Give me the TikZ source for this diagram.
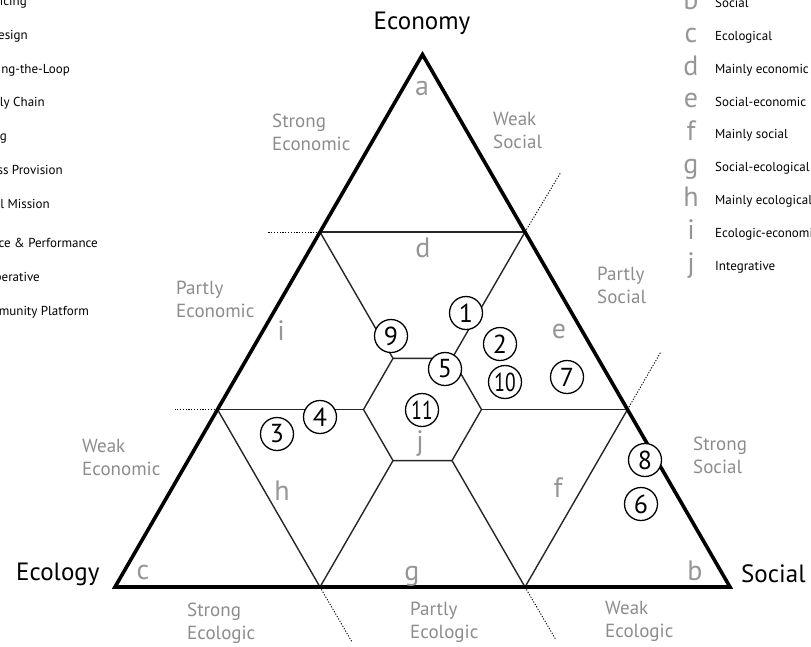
\documentclass[tikz,border=0pt]{standalone}
\usepackage{fontspec}
\setmainfont{PT Sans}
\usetikzlibrary{calc}
\definecolor{labgray}{HTML}{8C8C8C}
\definecolor{letgray}{HTML}{969696}
\begin{document}
\begin{tikzpicture}[x=1pt,y=-1pt,
  tri/.style={line width=3.6pt, line join=miter},
  gridline/.style={line width=1.4pt, black!85},
  extline/.style={line width=0.9pt, dash pattern=on 1.2pt off 1.6pt},
  zone/.style={text=labgray, font=\fontsize{19}{23}\selectfont, align=left, anchor=base west, inner sep=0pt},
  region/.style={text=letgray, font=\fontsize{28}{28}\selectfont, anchor=base, inner sep=0pt},
  corner/.style={font=\fontsize{25}{25}\selectfont, inner sep=0pt},
  num/.style={circle, draw, line width=1.3pt, fill=white, minimum size=33pt, inner sep=0pt, font=\fontsize{26}{26}\selectfont},
  legl/.style={font=\fontsize{13}{13}\selectfont, anchor=base east, inner sep=0pt},
  legr/.style={font=\fontsize{13}{13}\selectfont, anchor=base west, inner sep=0pt},
]
\useasboundingbox (0,0) rectangle (811,646);
\clip (0,0) rectangle (811,646);

% main points
\coordinate (A) at (422.5,54.5);
\coordinate (BL) at (115,587);
\coordinate (BR) at (730,587);
\coordinate (L1) at (320,232);
\coordinate (L2) at (217.5,409.5);
\coordinate (R1) at (525,232);
\coordinate (R2) at (627.5,409.5);
\coordinate (B1) at (320,587);
\coordinate (B2) at (525,587);
% hexagon
\coordinate (H1) at (393,358.4);
\coordinate (H2) at (452,358.4);
\coordinate (H3) at (481.5,409.5);
\coordinate (H4) at (452,460.6);
\coordinate (H5) at (393,460.6);
\coordinate (H6) at (363.5,409.5);
% dotted extension ends
\coordinate (eL1) at (267,232);
\coordinate (eL2) at (175,409.5);
\coordinate (eR1) at (561,172);
\coordinate (eR2) at (660.5,352.5);
\coordinate (eB1) at (352,642);
\coordinate (eB2) at (556,640);

% inner lines
\draw[gridline] (L1) -- (R1);
\draw[gridline] (L1) -- (H1);
\draw[gridline] (R1) -- (H2);
\draw[gridline] (L2) -- (H6);
\draw[gridline] (R2) -- (H3);
\draw[gridline] (B1) -- (H5);
\draw[gridline] (B2) -- (H4);
\draw[gridline] (L2) -- (B1);
\draw[gridline] (R2) -- (B2);
\draw[gridline] (H1) -- (H2) -- (H3) -- (H4) -- (H5) -- (H6) -- cycle;

% dotted extensions
\draw[extline] (L1) -- (eL1);
\draw[extline] (L2) -- (eL2);
\draw[extline] (R1) -- (eR1);
\draw[extline] (R2) -- (eR2);
\draw[extline] (B1) -- (eB1);
\draw[extline] (B2) -- (eB2);

% outer triangle
\draw[tri] (A) -- (BR) -- (BL) -- cycle;

% corner labels
\node[corner, anchor=base] (economy) at (422,29) {Economy};
\node[corner, anchor=base west] (ecology) at (16,580) {Ecology};
\node[corner, anchor=base west] (social) at (741,582) {Social};

% region letters
\node[region] (ra) at (422,95) {a};
\node[region] (rb) at (695,580) {b};
\node[region] (rc) at (143,579) {c};
\node[region] (rd) at (423,257) {d};
\node[region] (re) at (559,338) {e};
\node[region] (rf) at (558,497) {f};
\node[region] (rg) at (412,580) {g};
\node[region] (rh) at (282,500) {h};
\node[region] (ri) at (281,340) {i};
\node[region] (rj) at (420,450) {j};

% zone labels (anchor = baseline of the last line)
\node[zone] (z1) at (272,150) {Strong\\Economic};
\node[zone] (z2) at (493,148) {Weak\\Social};
\node[zone] (z3) at (176,317) {Partly\\Economic};
\node[zone] (z4) at (597,303) {Partly\\Social};
\node[zone] (z5) at (82,475) {Weak\\Economic};
\node[zone] (z6) at (693,473) {Strong\\Social};
\node[zone] (z7) at (187,639) {Strong\\Ecologic};
\node[zone] (z8) at (410,638) {Partly\\Ecologic};
\node[zone] (z9) at (605,637) {Weak\\Ecologic};

% numbered cases
\node[num] (n1) at (466,313) {1};
\node[num] (n2) at (500,344) {2};
\node[num] (n3) at (277,434) {3};
\node[num] (n4) at (320,417) {4};
\node[num] (n5) at (445,369) {5};
\node[num] (n6) at (641,504) {6};
\node[num] (n7) at (567,377) {7};
\node[num] (n8) at (645,460) {8};
\node[num] (n9) at (391,336) {9};
\node[num] (n10) at (505,382) {\scalebox{0.75}[1]{10}};
\node[num] (n11) at (422,410) {\scalebox{0.75}[1]{11}};

% left legend (cut by the frame)
\node[legl] (l1) at (27,5) {icing};
\node[legl] (l2) at (28,39) {esign};
\node[legl] (l3) at (70,73) {ng-the-Loop};
\node[legl] (l4) at (45,106) {ly Chain};
\node[legl] (l5) at (7,140) {g};
\node[legl] (l6) at (63,174) {ss Provision};
\node[legl] (l7) at (50,208) {l Mission};
\node[legl] (l8) at (98,247) {ce \& Performance};
\node[legl] (l9) at (40,281) {perative};
\node[legl] (l10) at (89,315) {munity Platform};

% right legend
\node[region] (kb) at (691,9) {b};
\node[region] (kc) at (691,42) {c};
\node[region] (kd) at (691,75) {d};
\node[region] (ke) at (691,107) {e};
\node[region] (kf) at (691,140) {f};
\node[region] (kg) at (691,173) {g};
\node[region] (kh) at (691,206) {h};
\node[region] (ki) at (691,239) {i};
\node[region] (kj) at (691,272) {j};
\node[legr] (tb) at (715,7) {Social};
\node[legr] (tc) at (715,40) {Ecological};
\node[legr] (td) at (715,73) {Mainly economic};
\node[legr] (te) at (715,106) {Social-economic};
\node[legr] (tf) at (715,138) {Mainly social};
\node[legr] (tg) at (715,171) {Social-ecological};
\node[legr] (th) at (715,204) {Mainly ecological};
\node[legr] (ti) at (715,237) {Ecologic-economic};
\node[legr] (tj) at (715,270) {Integrative};
\end{tikzpicture}
\end{document}
